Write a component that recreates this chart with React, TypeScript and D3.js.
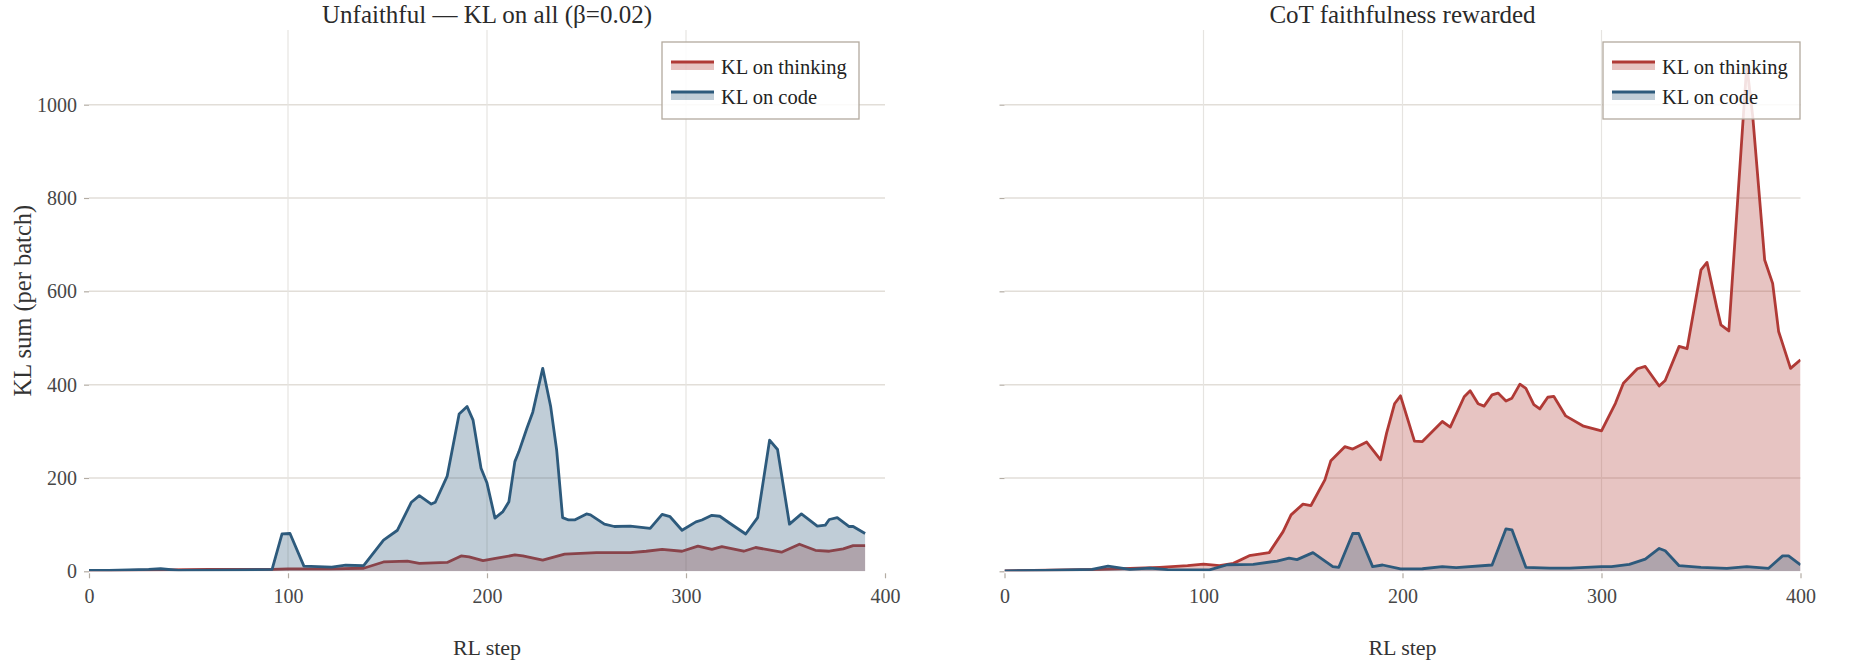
import * as d3 from 'd3'
import { useEffect, useRef } from 'react'

// RL steps where each series was logged, and the summed KL at those steps
const xTicks = [0, 100, 200, 300, 400]
const yTicks = [0, 200, 400, 600, 800, 1000]
const seriesNames = ['KL on thinking', 'KL on code']
const panelTitles = ['Unfaithful \u2014 KL on all (\u03b2=0.02)', 'CoT faithfulness rewarded']

// left panel: unfaithful, KL on all
const unfaithfulThinkingSteps = [
  0, 20, 40, 60, 80, 92, 100, 110, 121, 138, 148, 160, 166, 180, 187, 191, 198, 205, 214, 218, 228,
  239, 255, 272, 280, 288, 298, 306, 313, 318, 329, 335, 348, 357, 365, 372, 379, 384, 390,
]
const unfaithfulThinkingKL = [
  1, 2, 3, 4, 4, 4, 5, 5, 5, 6.5, 20, 22, 17, 19, 33, 31, 23, 28, 35, 33, 24,
  37, 40, 40, 43, 47, 43, 54, 47, 53, 43, 51, 41, 58, 45, 43, 48, 55, 55,
]
const unfaithfulCodeSteps = [
  0, 10, 20, 30, 36, 45, 60, 75, 92, 97, 101, 108, 122, 129, 138, 148, 155, 162, 166, 172, 174,
  180, 186, 190, 193, 197, 200, 204, 208, 211, 214, 216, 220, 223, 228, 232, 235, 238, 241, 244,
  250, 252, 259, 264, 272, 282, 288, 292, 298, 305, 308, 313, 317, 322, 330, 336, 342, 346, 352,
  358, 366, 370, 372, 376, 382, 384, 390,
]
const unfaithfulCodeKL = [
  2, 2, 3, 4, 5.5, 2, 2.5, 3, 4, 80, 81, 11, 9, 13, 12, 67, 88, 148, 162, 144, 148,
  204, 337, 353, 324, 221, 189, 114, 128, 149, 235, 256, 306, 341, 435, 353, 260, 115, 110, 110,
  123, 121, 101, 96, 97, 92, 122, 117, 88, 106, 110, 120, 118, 103, 80, 115, 281, 261, 101,
  123, 97, 99, 111, 115, 96, 96, 81,
]

// right panel: CoT faithfulness rewarded
const faithfulThinkingSteps = [
  0, 48, 78, 92, 100, 108, 115, 123, 133, 140, 144, 150, 154, 161, 164, 171, 175, 182, 189, 192,
  196, 199, 206, 210, 220, 224, 231, 234, 238, 241, 245, 248, 252, 255, 259, 262, 266, 269, 273,
  276, 282, 291, 300, 307, 311, 318, 322, 329, 332, 339, 343, 350, 353, 358, 360, 364, 373, 376,
  382, 386, 389, 395, 400,
]
const faithfulThinkingKL = [
  1, 4, 8.6, 12, 15.5, 12, 17, 33.5, 40, 85, 121, 144, 141, 196, 237, 267, 262, 277, 239, 296,
  359, 376, 279, 278, 321, 309, 374, 387, 359, 354, 378, 382, 365, 371, 401, 392, 357, 348, 373,
  375, 333, 311, 301, 360, 403, 434, 439, 397, 409, 482, 477, 646, 662, 564, 528, 515, 1085, 975,
  667, 617, 514, 435, 453,
]
const faithfulCodeSteps = [
  0, 20, 44, 52, 63, 73, 82, 103, 112, 125, 137, 143, 147, 155, 165, 168, 175, 178, 185, 190,
  199, 210, 220, 227, 245, 252, 255, 262, 274, 284, 300, 305, 314, 322, 329, 332, 339, 350, 363,
  373, 384, 391, 394, 400,
]
const faithfulCodeKL = [
  1, 2, 4, 11, 4, 7, 3.5, 3, 14, 15, 22, 28, 25, 40, 10, 8.6, 81, 81, 10, 13.5,
  5, 5.5, 10, 8, 13.5, 91, 89, 8.6, 7, 7, 10, 10, 15, 26, 49, 44, 12, 8.6, 6.4,
  10, 6.4, 33, 33, 13.5,
]

const zip = (xs: number[], ys: number[]): [number, number][] => xs.map((s, i) => [s, ys[i]])

const RED = '#b03a36'
const BLUE = '#2d5a7c'
const FONT = '"Liberation Serif", "Times New Roman", serif'

const App = () => {
  const ref = useRef<SVGSVGElement>(null)

  useEffect(() => {
    document.body.style.margin = '0'
    const svg = d3.select(ref.current)
    svg.selectAll('*').remove()

    const width = 1852
    const top = 30
    const bottom = 571.3

    const y = d3.scaleLinear().domain([0, 1160]).range([bottom, top])

    const panels = [
      {
        left: 89,
        right: 885,
        legendX: 662,
        labels: true,
        thinking: zip(unfaithfulThinkingSteps, unfaithfulThinkingKL),
        code: zip(unfaithfulCodeSteps, unfaithfulCodeKL),
      },
      {
        left: 1004.5,
        right: 1800.5,
        legendX: 1603,
        labels: false,
        thinking: zip(faithfulThinkingSteps, faithfulThinkingKL),
        code: zip(faithfulCodeSteps, faithfulCodeKL),
      },
    ]

    svg.append('rect').attr('width', width).attr('height', 666).attr('fill', '#fff')

    panels.forEach((p, pi) => {
      const x = d3.scaleLinear().domain([0, 400]).range([p.left, p.right])
      const g = svg.append('g')

      const clipId = 'clip-' + pi
      g.append('clipPath')
        .attr('id', clipId)
        .append('rect')
        .attr('x', p.left)
        .attr('y', top)
        .attr('width', p.right - p.left)
        .attr('height', bottom - top)

      // grid
      g.selectAll('.hgrid')
        .data(yTicks.filter((t) => t > 0))
        .enter()
        .append('line')
        .attr('x1', p.left)
        .attr('x2', p.right)
        .attr('y1', (d) => y(d))
        .attr('y2', (d) => y(d))
        .attr('stroke', '#e2ded8')
        .attr('stroke-width', 1.5)

      g.selectAll('.vgrid')
        .data(xTicks.filter((t) => t > 0 && t < 400))
        .enter()
        .append('line')
        .attr('x1', (d) => x(d))
        .attr('x2', (d) => x(d))
        .attr('y1', top)
        .attr('y2', bottom)
        .attr('stroke', '#e6e4e1')
        .attr('stroke-width', 1.2)

      const area = d3
        .area<[number, number]>()
        .x((d) => x(d[0]))
        .y0(y(0))
        .y1((d) => y(d[1]))
      const line = d3
        .line<[number, number]>()
        .x((d) => x(d[0]))
        .y((d) => y(d[1]))

      const marks = g.append('g').attr('clip-path', 'url(#' + clipId + ')')
      const series: [[number, number][], string][] = [
        [p.thinking, RED],
        [p.code, BLUE],
      ]
      series.forEach(([data, color]) => {
        marks.append('path').datum(data).attr('d', area).attr('fill', color).attr('fill-opacity', 0.3)
        marks
          .append('path')
          .datum(data)
          .attr('d', line)
          .attr('fill', 'none')
          .attr('stroke', color)
          .attr('stroke-width', 2.8)
          .attr('stroke-linejoin', 'round')
      })

      // axes
      const xAxis = g
        .append('g')
        .attr('transform', 'translate(0,' + (bottom + 2) + ')')
        .call(d3.axisBottom(x).tickValues(xTicks).tickSize(5).tickPadding(11))
      const yAxis = g
        .append('g')
        .attr('transform', 'translate(' + p.left + ',0)')
        .call(
          d3
            .axisLeft(y)
            .tickValues(yTicks)
            .tickSize(5)
            .tickPadding(7)
            .tickFormat((d) => (p.labels ? String(d) : ''))
        )
      ;[xAxis, yAxis].forEach((a) => {
        a.select('.domain').remove()
        a.selectAll('line').attr('stroke', '#b3aca3').attr('stroke-width', 1.2)
        a.selectAll('text').attr('fill', '#474747').style('font-family', FONT).style('font-size', '20px')
      })

      // titles
      g.append('text')
        .attr('x', (p.left + p.right) / 2)
        .attr('y', 22.5)
        .attr('text-anchor', 'middle')
        .attr('fill', '#2a2a2a')
        .style('font-family', FONT)
        .style('font-size', '25px')
        .text(panelTitles[pi])

      g.append('text')
        .attr('x', (p.left + p.right) / 2)
        .attr('y', 655)
        .attr('text-anchor', 'middle')
        .attr('fill', '#333')
        .style('font-family', FONT)
        .style('font-size', '22px')
        .text('RL step')

      // legend
      const lg = g.append('g').attr('transform', 'translate(' + p.legendX + ',42)')
      lg.append('rect')
        .attr('width', 197)
        .attr('height', 77)
        .attr('fill', 'rgba(255,255,255,0.85)')
        .attr('stroke', '#b3aa9e')
        .attr('stroke-width', 1.3)
      seriesNames.forEach((name, i) => {
        const color = i === 0 ? RED : BLUE
        const row = lg.append('g').attr('transform', 'translate(0,' + (20 + i * 30) + ')')
        row.append('rect').attr('x', 9).attr('y', 0).attr('width', 43).attr('height', 8)
          .attr('fill', color).attr('fill-opacity', 0.3)
        row.append('line').attr('x1', 9).attr('x2', 52).attr('y1', 0).attr('y2', 0)
          .attr('stroke', color).attr('stroke-width', 2.8)
        row.append('text')
          .attr('x', 59)
          .attr('y', 11.5)
          .attr('fill', '#222')
          .style('font-family', FONT)
          .style('font-size', '20.5px')
          .text(name)
      })
    })

    svg
      .append('text')
      .attr('transform', 'translate(30.5,' + (top + bottom) / 2 + ') rotate(-90)')
      .attr('text-anchor', 'middle')
      .attr('fill', '#333')
      .style('font-family', FONT)
      .style('font-size', '24.5px')
      .text('KL sum (per batch)')
  }, [])

  return <svg ref={ref} width={1852} height={666} style={{ display: 'block' }} />
}

export default App
